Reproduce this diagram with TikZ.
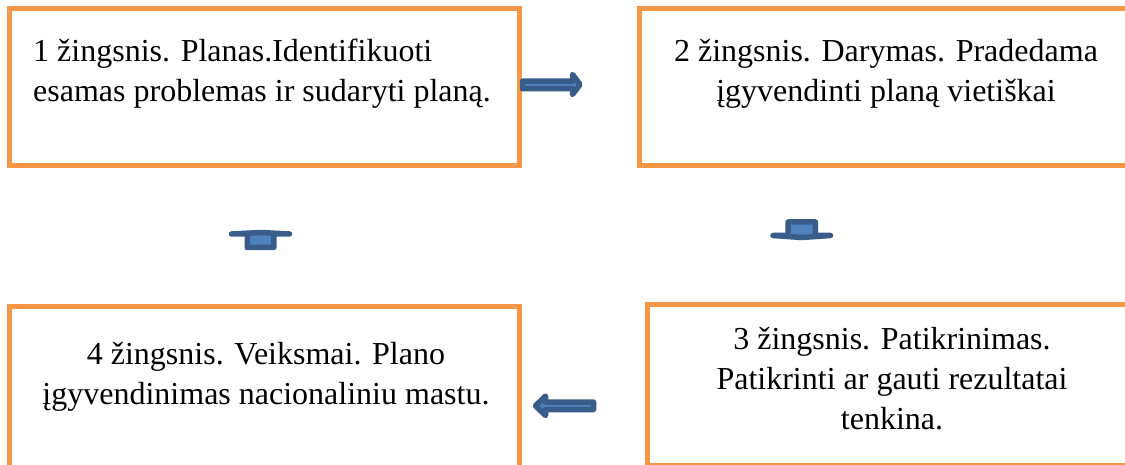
\documentclass[tikz,border=0pt]{standalone}
\usepackage{fontspec}
\setmainfont{Liberation Serif}
\definecolor{boxorange}{HTML}{F79646}
\definecolor{arrowfill}{HTML}{4F81BD}
\definecolor{arrowline}{HTML}{385D8A}
\begin{document}
\begin{tikzpicture}[x=1pt,y=-1pt,
  stepbox/.style={draw=boxorange, line width=5pt, rectangle, inner sep=0pt},
  txt/.style={font=\fontsize{32}{40}\selectfont, inner sep=0pt, text=black},
  blockarrow/.style={fill=arrowfill, draw=arrowline, line width=5.5pt, line join=round}]
\useasboundingbox (0,0) rectangle (1125,465);
\clip (0,0) rectangle (1125,465);
\fill[white] (0,0) rectangle (1125,465);
% boxes
\node[stepbox, minimum width=510pt, minimum height=157.5pt] (b1) at (264,87.25) {};
\node[stepbox, minimum width=494pt, minimum height=157pt] (b2) at (886.5,87) {};
\node[stepbox, minimum width=490pt, minimum height=161.5pt] (b3) at (892.5,384.75) {};
\node[stepbox, minimum width=510pt, minimum height=170pt] (b4) at (264,391.3) {};
% texts (anchor base = baseline of last line)
\node[txt, anchor=base west, align=left] (t1) at (33,102) {1 žingsnis. Planas.Identifikuoti\\esamas problemas ir sudaryti planą.};
\node[txt, anchor=base, align=center] (t2) at (886,102) {2 žingsnis. Darymas. Pradedama\\įgyvendinti planą vietiškai};
\node[txt, anchor=base, align=center] (t3) at (892,429) {3 žingsnis. Patikrinimas.\\Patikrinti ar gauti rezultatai\\tenkina.};
\node[txt, anchor=base, align=center] (t4) at (266,404) {4 žingsnis. Veiksmai. Plano\\įgyvendinimas nacionaliniu mastu.};
% arrows
% 1 -> 2 (right)
\draw[blockarrow] (522.5,81.25) -- (572.5,81.25) -- (572.5,74.5) -- (580,84.5) -- (572.5,94.5) -- (572.5,88.75) -- (522.5,88.75) -- cycle;
% 3 -> 4 (left)
\draw[blockarrow] (593.5,402) -- (545.5,402) -- (545.5,396) -- (535.5,405.8) -- (545.5,415.5) -- (545.5,409.5) -- (593.5,409.5) -- cycle;
% 4 -> 1 (up)
\draw[blockarrow] (247.25,247.5) -- (247.25,234) -- (231.5,234) -- (260.5,232.5) -- (289.5,234) -- (273.75,234) -- (273.75,247.5) -- cycle;
% 2 -> 3 (down)
\draw[blockarrow] (788,222) -- (815.4,222) -- (815.4,235.5) -- (830.5,235.5) -- (801.7,237.5) -- (773,235.5) -- (788,235.5) -- cycle;
\end{tikzpicture}
\end{document}
